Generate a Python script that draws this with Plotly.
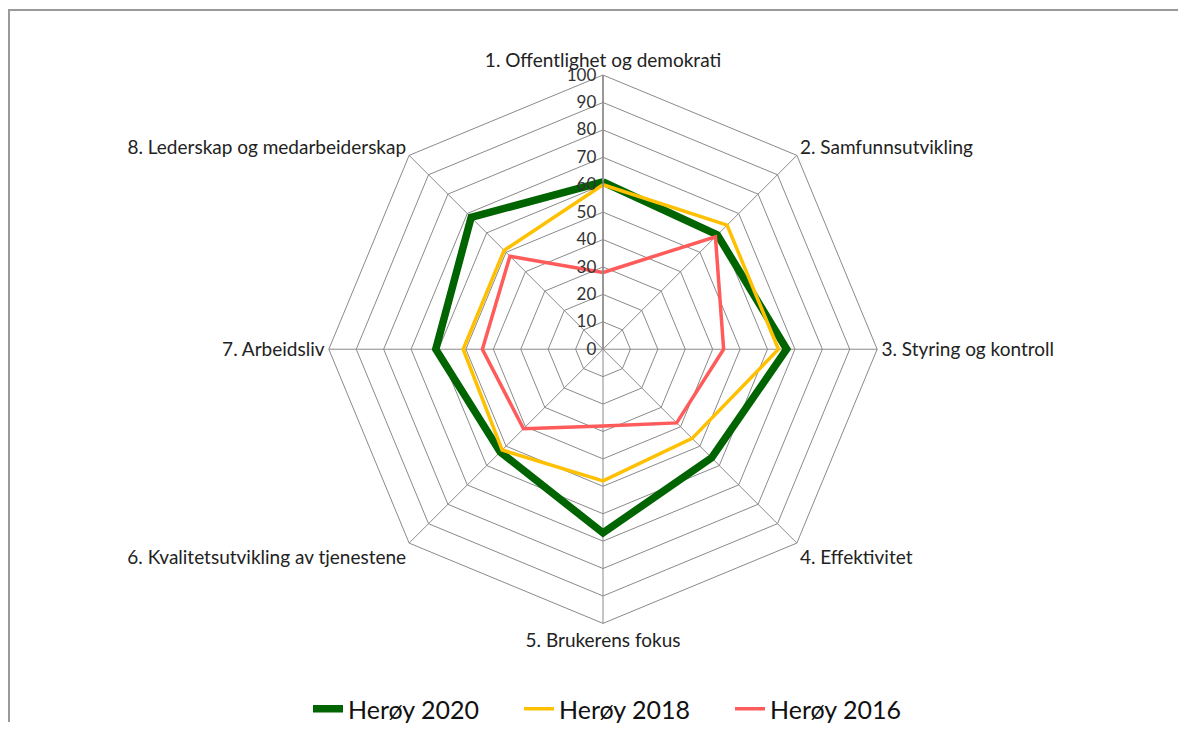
import plotly.graph_objects as go

categories = [
    "1. Offentlighet og demokrati",
    "2. Samfunnsutvikling",
    "3. Styring og kontroll",
    "4. Effektivitet",
    "5. Brukerens fokus",
    "6. Kvalitetsutvikling av tjenestene",
    "7. Arbeidsliv",
    "8. Lederskap og medarbeiderskap",
]
heroy_2020 = [61, 59, 67, 56, 67, 53, 61, 68]
heroy_2018 = [60, 64, 64, 46, 48, 52, 51, 51]
heroy_2016 = [28, 58, 44, 38, 28, 41, 44, 48]
radial_ticks = list(range(0, 101, 10))

series = [
    ("Herøy 2020", heroy_2020, "#006400", 7.5),
    ("Herøy 2018", heroy_2018, "#FFC000", 3.5),
    ("Herøy 2016", heroy_2016, "#FF5B5B", 3.5),
]

fig = go.Figure()
for name, vals, color, width in series:
    fig.add_trace(go.Scatterpolar(
        r=vals + vals[:1],
        theta=categories + categories[:1],
        mode="lines",
        name=name,
        line=dict(color=color, width=width),
    ))

# page body has an 8px margin, so figure coords = screen coords - 8
OFF = 8
W, H = 1170, 724
cx, cy, R = 603 - OFF, 354 - OFF, 278
FONT = "Lato, Open Sans, sans-serif"
fig.update_layout(
    width=W, height=H,
    margin=dict(l=0, r=0, t=0, b=0),
    paper_bgcolor="white",
    plot_bgcolor="white",
    font=dict(family=FONT, color="#222222"),
    polar=dict(
        domain=dict(x=[(cx - R) / W, (cx + R) / W], y=[(H - cy - R) / H, (H - cy + R) / H]),
        bgcolor="white",
        gridshape="linear",
        radialaxis=dict(
            range=[0, 100],
            tickvals=radial_ticks,
            ticktext=[str(v) for v in radial_ticks],
            angle=90,
            side="counterclockwise",
            showline=True,
            linecolor="#8a8a8a",
            linewidth=1.5,
            gridcolor="#8a8a8a",
            gridwidth=1,
            ticks="",
            tickfont=dict(size=17, color="#333333", family=FONT),
            tickangle=90,
        ),
        angularaxis=dict(
            direction="clockwise",
            rotation=90,
            showline=True,
            linecolor="#8a8a8a",
            linewidth=1,
            gridcolor="#8a8a8a",
            gridwidth=1,
            ticks="",
            tickfont=dict(size=19, color="#222222", family=FONT),
        ),
    ),
    legend=dict(
        orientation="h",
        x=(308 - OFF) / W, xanchor="left",
        y=(H - (719 - OFF)) / H, yanchor="middle",
        font=dict(size=25, color="#111111", family=FONT),
        entrywidth=166,
        entrywidthmode="pixels",
        tracegroupgap=0,
    ),
    shapes=[
        dict(type="line", xref="paper", yref="paper",
             x0=0, x1=1, y0=1 - (10 - OFF) / H, y1=1 - (10 - OFF) / H,
             line=dict(color="#9a9a9a", width=2)),
        dict(type="line", xref="paper", yref="paper",
             x0=1 / W, x1=1 / W, y0=0, y1=1 - (10 - OFF) / H,
             line=dict(color="#9a9a9a", width=2)),
    ],
)

fig.write_html("out.html", post_script="document.body.style.overflow='hidden';")
